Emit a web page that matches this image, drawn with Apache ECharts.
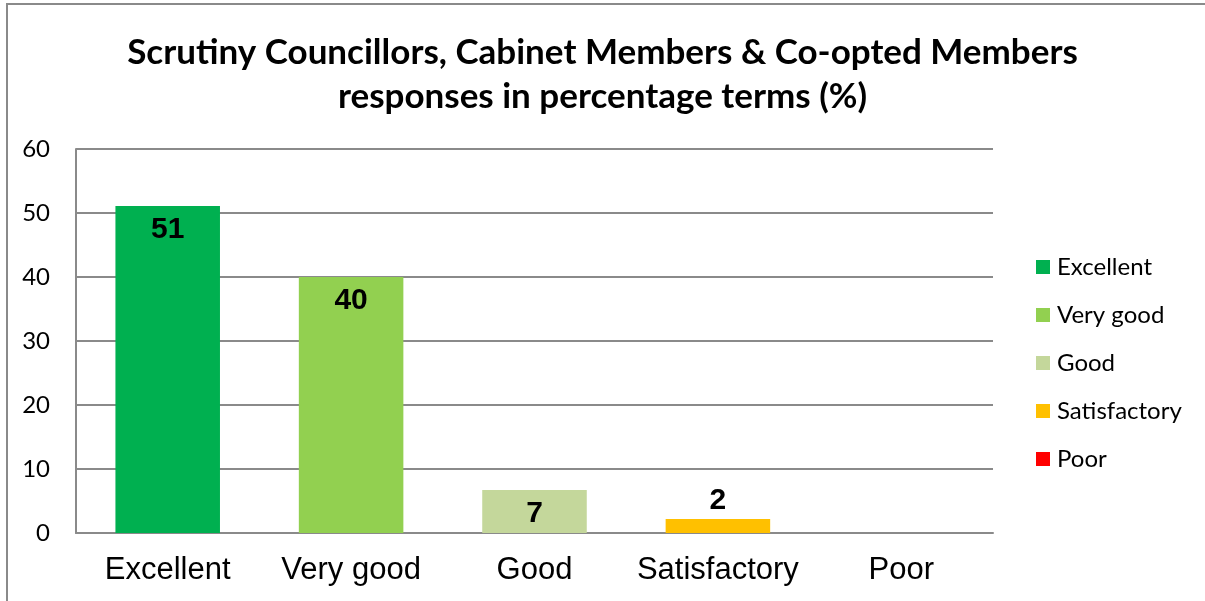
<!DOCTYPE html>
<html>
<head>
<meta charset="utf-8">
<script src="https://cdn.jsdelivr.net/npm/echarts@6/dist/echarts.min.js"></script>
<style>html,body{margin:0;padding:0;background:#fff}#c{width:1205px;height:601px}</style>
</head>
<body>
<div id="c"></div>
<script>
var titleText = 'Scrutiny Councillors, Cabinet Members & Co-opted Members\nresponses in percentage terms (%)';
var categories = ['Excellent', 'Very good', 'Good', 'Satisfactory', 'Poor'];
var values = [51.1, 40, 6.7, 2.2, 0];
var colors = ['#00B050', '#92D050', '#C4D79B', '#FFC000', '#FF0000'];
var yTicks = { min: 0, max: 60, interval: 10 };

var chart = echarts.init(document.getElementById('c'), null, { renderer: 'canvas' });

var series = categories.map(function (name, i) {
  var data = categories.map(function (_, j) { return j === i ? values[i] : '-'; });
  var small = values[i] < 4;
  return {
    name: name,
    type: 'bar',
    stack: 'all',
    barWidth: '57%',
    itemStyle: { color: colors[i] },
    data: data,
    label: {
      show: values[i] > 0,
      position: small ? 'top' : 'insideTop',
      distance: small ? 3 : 9,
      formatter: function (p) { return Math.round(p.value); },
      fontFamily: 'Liberation Sans, Arial, sans-serif',
      fontWeight: 'bold',
      fontSize: 30,
      color: '#000'
    }
  };
});

chart.setOption({
  animation: false,
  backgroundColor: '#fff',
  title: {
    text: titleText,
    left: 'center',
    top: 26,
    textStyle: {
      fontFamily: 'Lato, sans-serif',
      fontWeight: 'bold',
      fontSize: 35,
      lineHeight: 44,
      color: '#000'
    }
  },
  graphic: [{
    type: 'rect',
    shape: { x: 7, y: 4, width: 1400, height: 800 },
    style: { fill: 'none', stroke: '#8a8a8a', lineWidth: 2 },
    silent: true
  }],
  legend: {
    orient: 'vertical',
    left: 1036,
    top: 255,
    padding: 0,
    itemWidth: 14,
    itemHeight: 14,
    itemGap: 24,
    icon: 'rect',
    data: categories,
    textStyle: { fontFamily: 'Lato, sans-serif', fontSize: 24, lineHeight: 22, color: '#000', padding: [0, 0, 0, 2] }
  },
  grid: { left: 76, right: 212, top: 149, bottom: 68, containLabel: false },
  xAxis: {
    type: 'category',
    data: categories,
    axisLine: { show: true, lineStyle: { color: '#8a8a8a', width: 2 } },
    axisTick: { show: false },
    axisLabel: {
      interval: 0,
      fontFamily: 'Liberation Sans, Arial, sans-serif',
      fontSize: 31,
      color: '#000',
      margin: 22
    }
  },
  yAxis: {
    type: 'value',
    min: yTicks.min,
    max: yTicks.max,
    interval: yTicks.interval,
    axisLine: { show: true, lineStyle: { color: '#8a8a8a', width: 2 } },
    axisTick: { show: false },
    splitLine: { show: true, lineStyle: { color: '#8a8a8a', width: 2 } },
    axisLabel: {
      fontFamily: 'Lato, sans-serif',
      fontSize: 24,
      color: '#000',
      margin: 26
    }
  },
  series: series
});
</script>
</body>
</html>
